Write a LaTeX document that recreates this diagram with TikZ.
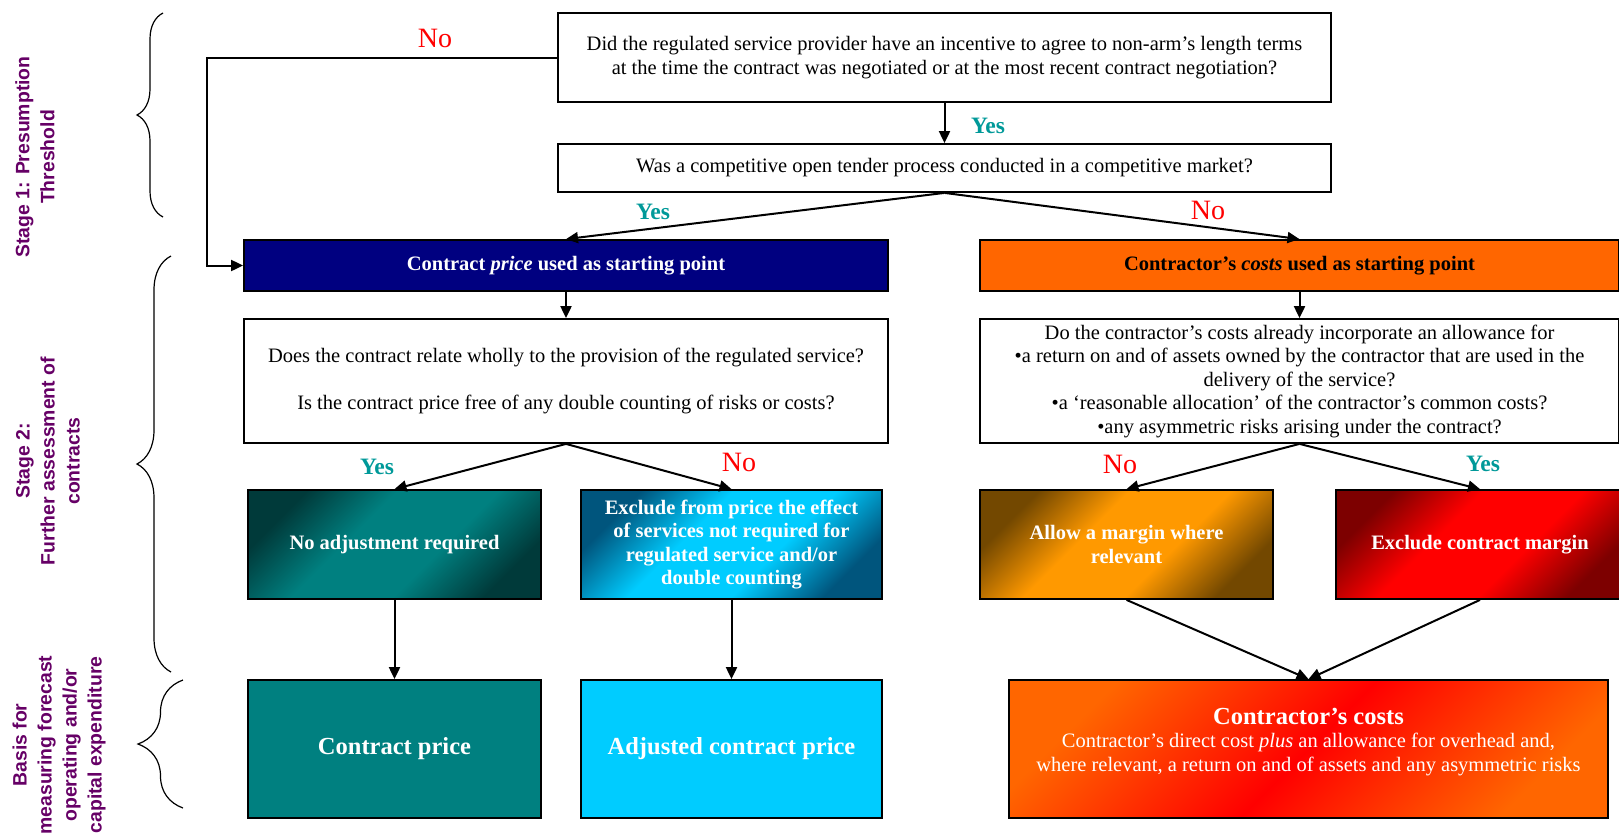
\documentclass[tikz,border=0pt]{standalone}
\usepackage{fontspec}
\setmainfont{Liberation Serif}
\newfontfamily\stagefont{Liberation Sans}
\usetikzlibrary{arrows.meta,decorations.pathreplacing}

\definecolor{navybox}{RGB}{0,0,128}
\definecolor{orangebox}{RGB}{255,102,0}
\definecolor{tealbox}{RGB}{0,128,128}
\definecolor{tealdark}{RGB}{0,58,58}
\definecolor{cyanbox}{RGB}{0,204,255}
\definecolor{cyandark}{RGB}{0,85,125}
\definecolor{amberbox}{RGB}{255,153,0}
\definecolor{amberdark}{RGB}{115,72,0}
\definecolor{redbox}{RGB}{255,0,0}
\definecolor{reddark}{RGB}{125,0,0}
\definecolor{yesteal}{RGB}{0,153,153}
\definecolor{stagepurple}{RGB}{102,0,102}

% dark corners, light middle
\colorlet{glowdark}{black}
\colorlet{glowlight}{white}
\pgfdeclareverticalshading[glowdark,glowlight]{cornerglow}{100bp}{%
  color(0bp)=(glowdark); color(25bp)=(glowdark); color(41bp)=(glowlight);
  color(59bp)=(glowlight); color(75bp)=(glowdark); color(100bp)=(glowdark)}

\tikzset{
  qbox/.style={draw, line width=1.8pt, fill=white, align=center, inner sep=0pt,
    font=\fontsize{20.5}{23.5}\selectfont},
  startbox/.style={draw, line width=1.8pt, align=center, inner sep=0pt,
    minimum height=51pt, font=\bfseries\fontsize{20.5}{23.5}\selectfont},
  gradbox/.style 2 args={draw, line width=1.8pt,
    /utils/exec={\colorlet{glowdark}{#1}\colorlet{glowlight}{#2}},
    shade, shading=cornerglow, shading angle=45, text=white, align=center, inner sep=0pt,
    minimum height=109pt, font=\bfseries\fontsize{20.5}{23.5}\selectfont},
  resultbox/.style={draw, line width=1.8pt, text=white, align=center, inner sep=0pt,
    minimum height=138pt, font=\bfseries\fontsize{24.5}{27}\selectfont},
  yeslbl/.style={text=yesteal, inner sep=0pt, font=\bfseries\fontsize{23.5}{26}\selectfont},
  nolbl/.style={text=red, inner sep=0pt, font=\fontsize{28}{30}\selectfont},
  stagelbl/.style={text=stagepurple, rotate=90, align=center, inner sep=0pt,
    font=\stagefont\bfseries\fontsize{19.4}{25}\selectfont},
  stagebrace/.style={decorate, decoration={brace, amplitude=#1}, line width=1.2pt},
  flow/.style={->, line width=2pt}
}

\begin{document}
\begin{tikzpicture}[x=1pt, y=-1pt, >={Triangle[length=12pt,width=11pt]}]
  \useasboundingbox (0,0) rectangle (1619,836);

  % stages on the left
  \node[stagelbl] (stageOne) at (35,157) {Stage 1: Presumption\\Threshold};
  \node[stagelbl] (stageTwo) at (48,461) {Stage 2:\\Further assessment of\\contracts};
  \node[stagelbl] (stageBasis) at (59,745) {Basis for\\measuring forecast\\operating and/or\\capital expenditure};

  \draw[stagebrace=26pt] (163,217) -- (163,13);
  \draw[stagebrace=34pt] (171,672) -- (171,256);
  \draw[stagebrace=45pt] (183,808) -- (183,680);

  % presumption threshold
  \node[qbox, minimum width=773pt, minimum height=89pt] (incentive) at (944.5,57.5)
    {Did the regulated service provider have an incentive to agree to non-arm’s length terms\\
     at the time the contract was negotiated or at the most recent contract negotiation?};
  \node[qbox, minimum width=773pt, minimum height=48pt] (tender) at (944.5,168)
    {Was a competitive open tender process conducted in a competitive market?};

  \node[startbox, fill=navybox, text=white, minimum width=644pt] (priceStart) at (566,265.5)
    {Contract \textit{price} used as starting point};
  \node[startbox, fill=orangebox, minimum width=639pt] (costStart) at (1299.5,265.5)
    {Contractor’s \textit{costs} used as starting point};

  % further assessment
  \node[qbox, minimum width=644pt, minimum height=124pt] (wholly) at (566,381)
    {Does the contract relate wholly to the provision of the regulated service?\\[23.5pt]
     Is the contract price free of any double counting of risks or costs?};
  \node[qbox, minimum width=639pt, minimum height=124pt] (allowance) at (1299.5,381)
    {Do the contractor’s costs already incorporate an allowance for\\
     •a return on and of assets owned by the contractor that are used in the\\
     delivery of the service?\\
     •a ‘reasonable allocation’ of the contractor’s common costs?\\
     •any asymmetric risks arising under the contract?};

  \node[gradbox={tealdark}{tealbox}, minimum width=293pt] (noAdjust) at (394.5,544.5)
    {No adjustment required};
  \node[gradbox={cyandark}{cyanbox}, minimum width=301pt] (excludeEffect) at (731.5,544.5)
    {Exclude from price the effect\\of services not required for\\regulated service and/or\\double counting};
  \node[gradbox={amberdark}{amberbox}, minimum width=293pt] (allowMargin) at (1126.5,544.5)
    {Allow a margin where\\relevant};
  \node[gradbox={reddark}{redbox}, minimum width=288pt] (excludeMargin) at (1480,544.5)
    {Exclude contract margin};

  % basis for forecast
  \node[resultbox, fill=tealbox, minimum width=293pt] (contractPrice) at (394.5,749)
    {Contract price};
  \node[resultbox, fill=cyanbox, minimum width=301pt] (adjustedPrice) at (731.5,749)
    {Adjusted contract price};
  \node[draw, line width=1.8pt, top color=orangebox, bottom color=orangebox, middle color=redbox,
        shading angle=45, text=white, align=center, inner sep=0pt,
        minimum width=599pt, minimum height=138pt,
        font=\fontsize{20.5}{23.5}\selectfont] (contractorCosts) at (1308.5,749)
    {{\bfseries\fontsize{24.5}{25}\selectfont Contractor’s costs}\\
     Contractor’s direct cost \textit{plus} an allowance for overhead and,\\
     where relevant, a return on and of assets and any asymmetric risks\\[-5pt]\mbox{}};

  % connectors
  \coordinate (noTurn) at (207,57.5);
  \draw[flow] (incentive.west) -- (noTurn) |- (priceStart.west);
  \draw[flow] (incentive) -- (tender);
  \draw[flow] (tender.south) -- (priceStart.north);
  \draw[flow] (tender.south) -- (costStart.north);
  \draw[flow] (priceStart) -- (wholly);
  \draw[flow] (costStart) -- (allowance);
  \draw[flow] (wholly.south) -- (noAdjust.north);
  \draw[flow] (wholly.south) -- (excludeEffect.north);
  \draw[flow] (allowance.south) -- (allowMargin.north);
  \draw[flow] (allowance.south) -- (excludeMargin.north);
  \draw[flow] (noAdjust) -- (contractPrice);
  \draw[flow] (excludeEffect) -- (adjustedPrice);
  \draw[flow] (allowMargin.south) -- (contractorCosts.north);
  \draw[flow] (excludeMargin.south) -- (contractorCosts.north);

  % yes / no
  \node[nolbl] (noIncentive) at (435,38) {No};
  \node[yeslbl] (yesTender) at (988,126) {Yes};
  \node[yeslbl] (yesPrice) at (653,212) {Yes};
  \node[nolbl] (noPrice) at (1208,210) {No};
  \node[yeslbl] (yesWholly) at (377,467) {Yes};
  \node[nolbl] (noWholly) at (739,462) {No};
  \node[nolbl] (noAllowance) at (1120,464) {No};
  \node[yeslbl] (yesAllowance) at (1483,464) {Yes};
\end{tikzpicture}
\end{document}
